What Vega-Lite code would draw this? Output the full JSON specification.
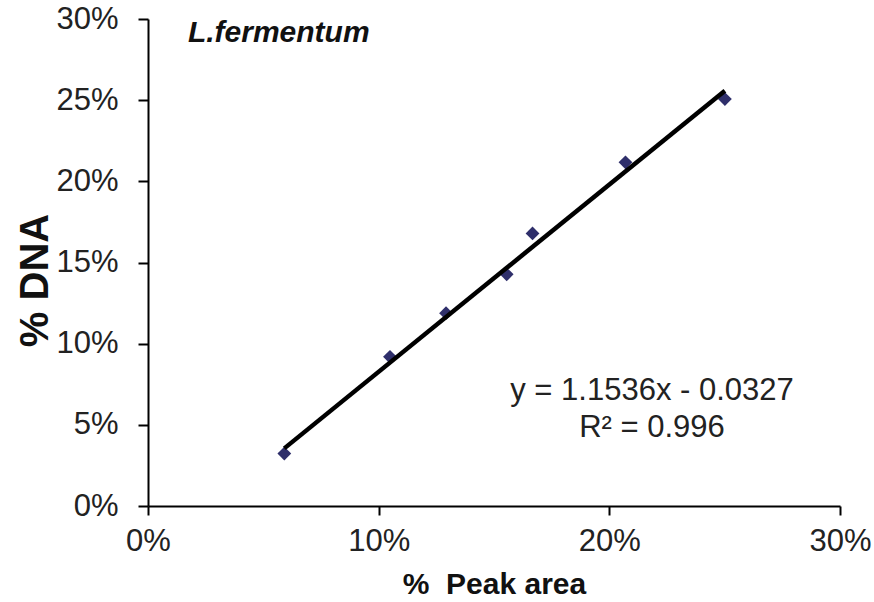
{
  "$schema": "https://vega.github.io/schema/vega-lite/v6.json",
  "width": 692,
  "height": 487,
  "autosize": "none",
  "padding": {"left": 148, "top": 19, "right": 34, "bottom": 96},
  "background": "white",
  "config": {"view": {"stroke": null}, "font": "Liberation Sans"},
  "datasets": {
    "points": [
      {"peak": 0.0591, "dna": 0.0323},
      {"peak": 0.1049, "dna": 0.0919},
      {"peak": 0.1292, "dna": 0.1188},
      {"peak": 0.1555, "dna": 0.1427},
      {"peak": 0.1667, "dna": 0.1679},
      {"peak": 0.2070, "dna": 0.2117},
      {"peak": 0.2501, "dna": 0.2507}
    ],
    "trend": [
      {"peak": 0.0591, "dna": 0.0355},
      {"peak": 0.2501, "dna": 0.2558}
    ]
  },
  "layer": [
    {
      "data": {"name": "points"},
      "mark": {"type": "point", "shape": "diamond", "filled": true, "color": "#2f2f6b", "size": 190, "opacity": 1},
      "encoding": {
        "x": {"field": "peak", "type": "quantitative",
          "scale": {"domain": [0, 0.3], "nice": false, "zero": true},
          "axis": {"values": [0, 0.1, 0.2, 0.3], "format": ".0%", "grid": false, "labelFlush": false,
            "domainColor": "black", "domainWidth": 2, "tickColor": "black", "tickWidth": 2, "tickSize": 9,
            "labelFontSize": 31, "labelColor": "#222", "labelPadding": 11, "labelFont": "Liberation Sans",
            "title": "%\u00a0 Peak area", "titleFontSize": 30, "titleFontWeight": "bold", "titleColor": "#111",
            "titleBaseline": "alphabetic", "titleY": 87, "titleFont": "Liberation Sans"}},
        "y": {"field": "dna", "type": "quantitative",
          "scale": {"domain": [0, 0.3], "nice": false, "zero": true},
          "axis": {"values": [0, 0.05, 0.1, 0.15, 0.2, 0.25, 0.3], "format": ".0%", "grid": false, "labelFlush": false,
            "domainColor": "black", "domainWidth": 2, "tickColor": "black", "tickWidth": 2, "tickSize": 10,
            "labelFontSize": 31, "labelColor": "#222", "labelPadding": 20, "labelFont": "Liberation Sans",
            "title": "% DNA", "titleFontSize": 40, "titleFontWeight": "bold", "titleColor": "#111",
            "titleAngle": -90, "titleAlign": "center", "titleBaseline": "alphabetic",
            "titleX": -101, "titleY": 261, "titleFont": "Liberation Sans"}}
      }
    },
    {
      "data": {"name": "trend"},
      "mark": {"type": "line", "color": "black", "strokeWidth": 4.5},
      "encoding": {
        "x": {"field": "peak", "type": "quantitative"},
        "y": {"field": "dna", "type": "quantitative"}
      }
    },
    {
      "data": {"values": [{}]},
      "mark": {"type": "text", "text": "L.fermentum", "font": "Liberation Sans", "fontSize": 30, "fontWeight": "bold", "fontStyle": "italic", "align": "left", "baseline": "alphabetic", "color": "#111"},
      "encoding": {"x": {"datum": 0.0173}, "y": {"datum": 0.286}}
    },
    {
      "data": {"values": [{}]},
      "mark": {"type": "text", "text": ["y = 1.1536x - 0.0327", "R² = 0.996"], "lineHeight": 36.7, "font": "Liberation Sans", "fontSize": 31, "align": "center", "baseline": "alphabetic", "color": "#222"},
      "encoding": {"x": {"datum": 0.2185}, "y": {"datum": 0.0652}}
    }
  ]
}
